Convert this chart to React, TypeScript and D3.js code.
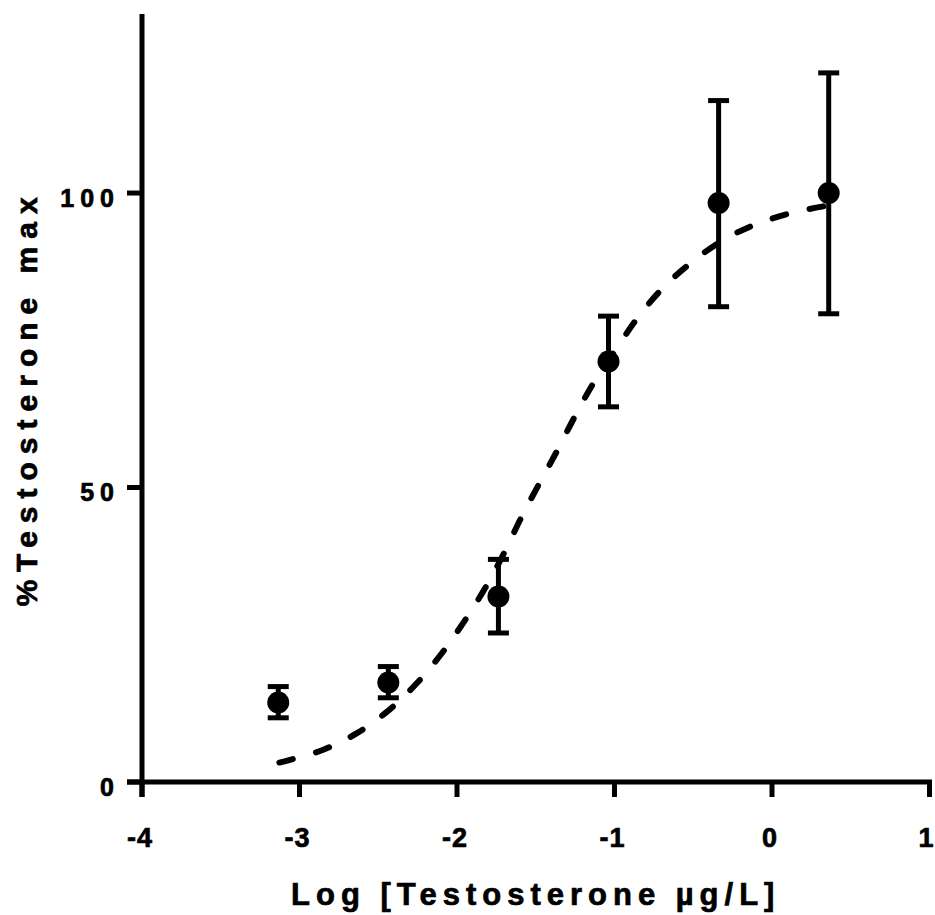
import React from 'react';
import * as d3 from 'd3';

// log concentrations of the measured points
const logDose = [-3.135, -2.436, -1.737, -1.038, -0.339, 0.36];
const meanPct = [13.5, 16.9, 31.5, 71.4, 98.3, 100.0];
const errUpper = [16.2, 19.6, 37.8, 79.1, 115.7, 120.4];
const errLower = [10.9, 14.3, 25.3, 63.7, 80.7, 79.5];

// fitted curve
const fitX = [-3.128, -2.857, -2.635, -2.432, -2.254, -2.095, -1.956, -1.822, -1.695, -1.594, -1.479,
  -1.365, -1.251, -1.13, -0.99, -0.851, -0.692, -0.508, -0.298, -0.083, 0.152, 0.362];
const fitY = [3.3, 5.4, 8.3, 12.2, 16.8, 21.9, 27.2, 32.9, 39.2, 44.8, 50.6,
  56.2, 62.1, 67.9, 73.5, 78.9, 83.9, 88.3, 92.2, 94.9, 96.8, 97.9];

const xTicks = [-4, -3, -2, -1, 0, 1];
const yTicks = [0, 50, 100];

const font = '"Liberation Sans", Arial, Helvetica, sans-serif';

const App = () => {
  const width = 935;
  const height = 915;

  const x = d3.scaleLinear().domain([-4, 1]).range([142, 929.5]);
  const y = d3.scaleLinear().domain([0, 130.4]).range([782, 14]);

  const line = d3.line<number>()
    .x((d, i) => x(fitX[i]))
    .y(d => y(d))
    .curve(d3.curveCatmullRom);

  const capHalf = 10.5;
  const tickLen = 15;
  // a thin outline makes the bold text as heavy as the reference
  const heavy = { stroke: '#000', strokeWidth: 0.7 };

  return (
    <div style={{ position: 'absolute', left: 0, top: 0 }}>
      <svg width={width} height={height} style={{ display: 'block', background: '#fff' }}>
        {/* fitted curve */}
        <path
          d={line(fitY) || ''}
          fill="none"
          stroke="#000"
          strokeWidth={6}
          strokeDasharray="14 24"
          strokeLinecap="round"
        />

        {/* error bars */}
        {logDose.map((d, i) => (
          <g key={'e' + i} stroke="#000" strokeWidth={5}>
            <line x1={x(d)} x2={x(d)} y1={y(errUpper[i])} y2={y(errLower[i])} />
            <line x1={x(d) - capHalf} x2={x(d) + capHalf} y1={y(errUpper[i])} y2={y(errUpper[i])} />
            <line x1={x(d) - capHalf} x2={x(d) + capHalf} y1={y(errLower[i])} y2={y(errLower[i])} />
          </g>
        ))}

        {/* points */}
        {logDose.map((d, i) => (
          <circle key={'p' + i} cx={x(d)} cy={y(meanPct[i])} r={11} fill="#000" />
        ))}

        {/* y axis */}
        <line x1={x(-4)} x2={x(-4)} y1={y.range()[1]} y2={y(0) + tickLen} stroke="#000" strokeWidth={5} />
        {yTicks.map(t => (
          <g key={'yt' + t}>
            <line x1={x(-4) - tickLen} x2={x(-4)} y1={y(t)} y2={y(t)} stroke="#000" strokeWidth={5} />
            <text
              x={x(-4) - 22}
              y={y(t) + 13.5}
              textAnchor="end"
              fontFamily={font}
              fontWeight="bold"
              fontSize={25}
              letterSpacing={6}
              {...heavy}
            >
              {t}
            </text>
          </g>
        ))}

        {/* x axis */}
        <line x1={x(-4) - tickLen} x2={x(1) + 2.5} y1={y(0)} y2={y(0)} stroke="#000" strokeWidth={5} />
        {xTicks.map(t => (
          <g key={'xt' + t}>
            <line x1={x(t)} x2={x(t)} y1={y(0)} y2={y(0) + tickLen} stroke="#000" strokeWidth={5} />
            <text
              x={t === 1 ? x(t) - 3 : x(t) - 2}
              y={846.5}
              textAnchor="middle"
              fontFamily={font}
              fontWeight="bold"
              fontSize={27}
              letterSpacing={1}
              {...heavy}
            >
              {t}
            </text>
          </g>
        ))}

        {/* axis titles */}
        <text
          x={(x(-4) + x(1)) / 2}
          y={905}
          textAnchor="middle"
          fontFamily={font}
          fontWeight="bold"
          fontSize={31}
          letterSpacing={6}
          {...heavy}
        >
          Log [Testosterone µg/L]
        </text>
        <text
          transform={`translate(37,${(y(0) + y.range()[1]) / 2}) rotate(-90)`}
          textAnchor="middle"
          fontFamily={font}
          fontWeight="bold"
          fontSize={30}
          letterSpacing={8}
          {...heavy}
        >
          %Testosterone max
        </text>
      </svg>
    </div>
  );
};

export default App;
